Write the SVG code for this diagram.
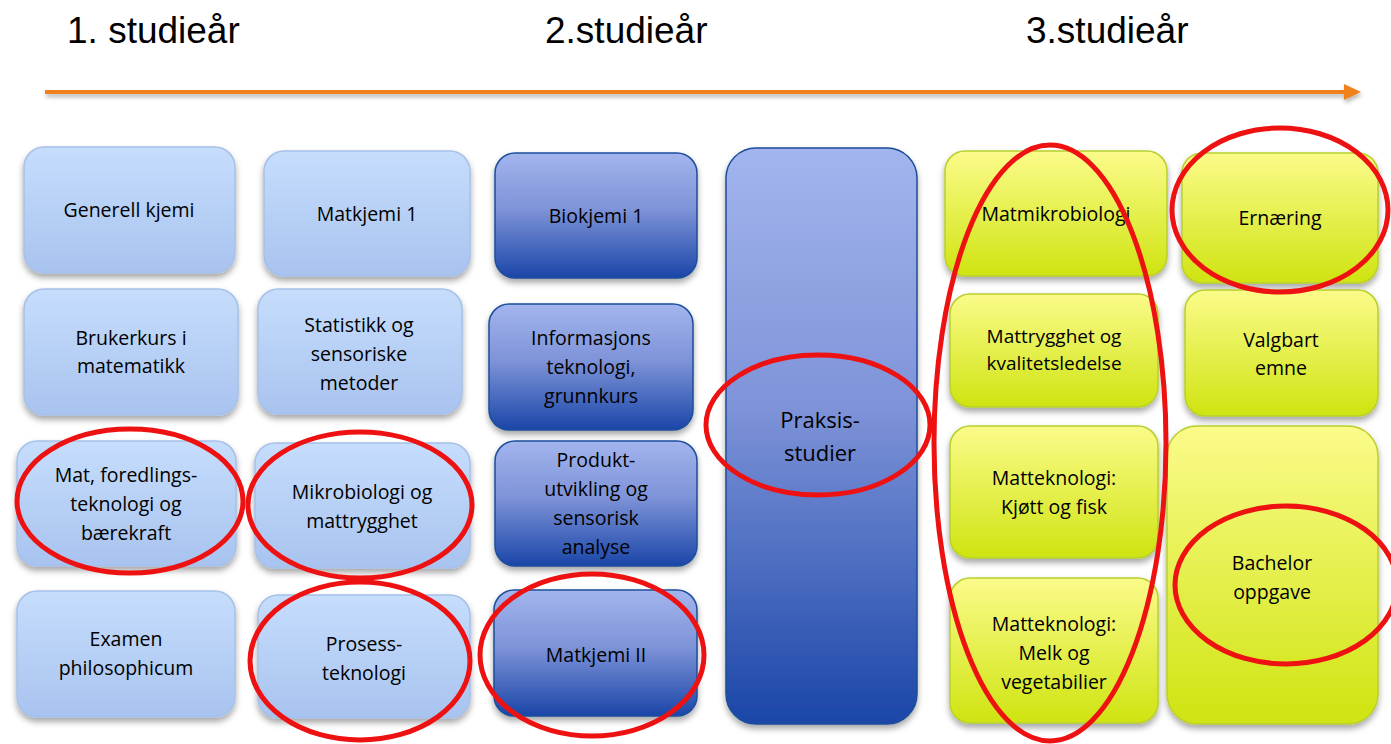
<svg xmlns="http://www.w3.org/2000/svg" width="1391" height="744" viewBox="0 0 1391 744">
<defs>
<linearGradient id="gl" x1="0" y1="0" x2="0" y2="1"><stop offset="0" stop-color="#c6ddfc"/><stop offset="1" stop-color="#a8c3ef"/></linearGradient>
<linearGradient id="gd" x1="0" y1="0" x2="0" y2="1"><stop offset="0" stop-color="#a3b5ee"/><stop offset="0.45" stop-color="#7e93d8"/><stop offset="1" stop-color="#1a46a8"/></linearGradient>
<linearGradient id="gy" x1="0" y1="0" x2="0" y2="1"><stop offset="0" stop-color="#fbfb8a"/><stop offset="1" stop-color="#cfe411"/></linearGradient>
<filter id="sh" x="-10%" y="-10%" width="120%" height="130%"><feDropShadow dx="0" dy="4" stdDeviation="3" flood-color="#000" flood-opacity="0.35"/></filter>
<filter id="sha" filterUnits="userSpaceOnUse" x="0" y="70" width="1391" height="50"><feDropShadow dx="1" dy="3" stdDeviation="2" flood-color="#000" flood-opacity="0.3"/></filter>
<style>
.l{fill:url(#gl);stroke:#a6c0e8;stroke-width:1.5;filter:url(#sh)}
.d{fill:url(#gd);stroke:#1c4e9a;stroke-width:1.5;filter:url(#sh)}
.y{fill:url(#gy);stroke:#b8cf2c;stroke-width:1.5;filter:url(#sh)}
.t{font-family:"Open Sans","Noto Sans",sans-serif;font-size:19.5px;fill:#000;text-anchor:middle}
.h{font-family:"Liberation Sans",Arial,sans-serif;font-size:37px;fill:#000}
.r{fill:none;stroke:#ee1111;stroke-width:5}
</style>
</defs>
<rect width="1391" height="744" fill="#fff"/>
<text class="h" x="67" y="43">1. studieår</text>
<text class="h" x="545" y="43">2.studieår</text>
<text class="h" x="1026" y="43">3.studieår</text>
<g id="connectors" filter="url(#sha)">
<line x1="45" y1="92" x2="1346" y2="92" stroke="#f0821e" stroke-width="4"/>
<path d="M1344,84 L1361,92 L1344,100 Z" fill="#f0821e"/>
</g>
<g id="n1"><rect class="l" x="24" y="147" width="211" height="126" rx="20"/><text class="t" x="129" y="217">Generell kjemi</text></g>
<g id="n2"><rect class="l" x="24" y="289" width="214" height="126" rx="20"/><text class="t" x="131" y="345">Brukerkurs i</text><text class="t" x="131" y="373">matematikk</text></g>
<g id="n3"><rect class="l" x="17" y="441" width="219" height="125" rx="20"/><text class="t" x="126" y="482">Mat, foredlings-</text><text class="t" x="126" y="511">teknologi og</text><text class="t" x="126" y="540">bærekraft</text></g>
<g id="n4"><rect class="l" x="17" y="591" width="218" height="126" rx="20"/><text class="t" x="126" y="646">Examen</text><text class="t" x="126" y="675">philosophicum</text></g>
<g id="n5"><rect class="l" x="264" y="151" width="206" height="125" rx="20"/><text class="t" x="367" y="221">Matkjemi 1</text></g>
<g id="n6"><rect class="l" x="258" y="289" width="204" height="125" rx="20"/><text class="t" x="359" y="332">Statistikk og</text><text class="t" x="359" y="361">sensoriske</text><text class="t" x="359" y="390">metoder</text></g>
<g id="n7"><rect class="l" x="255" y="443" width="215" height="125" rx="20"/><text class="t" x="362" y="499">Mikrobiologi og</text><text class="t" x="362" y="528">mattrygghet</text></g>
<g id="n8"><rect class="l" x="258" y="595" width="212" height="123" rx="20"/><text class="t" x="364" y="651">Prosess-</text><text class="t" x="364" y="680">teknologi</text></g>
<g id="n9"><rect class="d" x="495" y="153" width="202" height="125" rx="20"/><text class="t" x="596" y="223">Biokjemi 1</text></g>
<g id="n10"><rect class="d" x="489" y="304" width="204" height="126" rx="20"/><text class="t" x="591" y="345">Informasjons</text><text class="t" x="591" y="374">teknologi,</text><text class="t" x="591" y="403">grunnkurs</text></g>
<g id="n11"><rect class="d" x="495" y="441" width="202" height="125" rx="20"/><text class="t" x="596" y="467">Produkt-</text><text class="t" x="596" y="496">utvikling og</text><text class="t" x="596" y="525">sensorisk</text><text class="t" x="596" y="554">analyse</text></g>
<g id="n12"><rect class="d" x="494" y="590" width="203" height="126" rx="20"/><text class="t" x="596" y="662">Matkjemi II</text></g>
<g id="n13"><rect class="d" x="726" y="148" width="191" height="576" rx="30"/><text class="t" x="820" y="428" style="font-size:22px">Praksis-</text><text class="t" x="820" y="461" style="font-size:22px">studier</text></g>
<g id="n14"><rect class="y" x="945" y="151" width="222" height="125" rx="20"/><text class="t" x="1056" y="221">Matmikrobiologi</text></g>
<g id="n15"><rect class="y" x="950" y="294" width="208" height="113" rx="20"/><text class="t" x="1054" y="343" style="font-size:19px">Mattrygghet og</text><text class="t" x="1054" y="370" style="font-size:19px">kvalitetsledelse</text></g>
<g id="n16"><rect class="y" x="950" y="426" width="208" height="132" rx="20"/><text class="t" x="1054" y="485">Matteknologi:</text><text class="t" x="1054" y="514">Kjøtt og fisk</text></g>
<g id="n17"><rect class="y" x="950" y="578" width="208" height="145" rx="20"/><text class="t" x="1054" y="631">Matteknologi:</text><text class="t" x="1054" y="660">Melk og</text><text class="t" x="1054" y="689">vegetabilier</text></g>
<g id="n18"><rect class="y" x="1182" y="153" width="196" height="130" rx="20"/><text class="t" x="1280" y="225">Ernæring</text></g>
<g id="n19"><rect class="y" x="1185" y="290" width="193" height="126" rx="20"/><text class="t" x="1281" y="347">Valgbart</text><text class="t" x="1281" y="375">emne</text></g>
<g id="n20"><rect class="y" x="1167" y="426" width="211" height="298" rx="30"/><text class="t" x="1272" y="570">Bachelor</text><text class="t" x="1272" y="599">oppgave</text></g>
<g id="circles">
<ellipse class="r" cx="130" cy="501" rx="113" ry="72"/>
<ellipse class="r" cx="360" cy="505" rx="112" ry="73"/>
<ellipse class="r" cx="360" cy="661" rx="110" ry="79"/>
<ellipse class="r" cx="592" cy="655" rx="112" ry="81"/>
<ellipse class="r" cx="818" cy="425" rx="112" ry="70"/>
<ellipse class="r" cx="1050" cy="443" rx="116" ry="298"/>
<ellipse class="r" cx="1280" cy="210" rx="108" ry="82"/>
<ellipse class="r" cx="1286" cy="585" rx="111" ry="79"/>
</g>
</svg>
